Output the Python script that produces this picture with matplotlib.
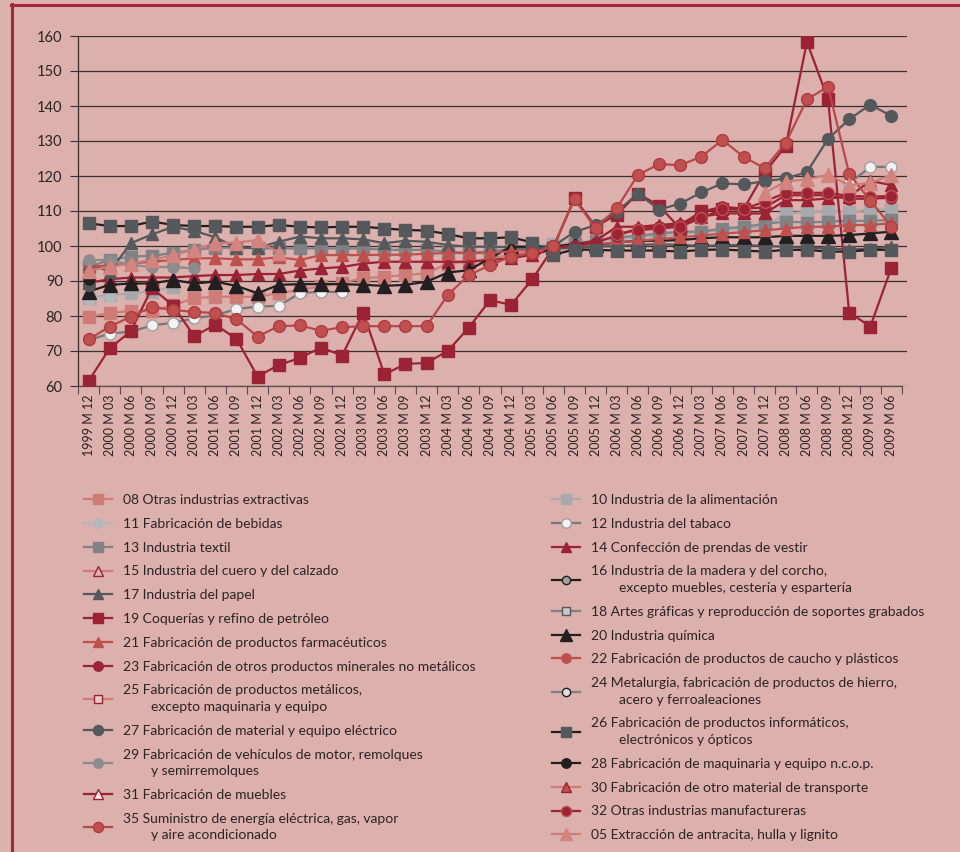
import numpy as np
import matplotlib
matplotlib.use("Agg")
import matplotlib.pyplot as plt
from matplotlib.lines import Line2D

nan = np.nan

# periodos trimestrales 1999 M12 - 2009 M06
periodos = ["1999 M 12"]
for a in range(2000, 2009):
    for m in ["03", "06", "09", "12"]:
        periodos.append("%d M %s" % (a, m))
periodos += ["2009 M 03", "2009 M 06"]

# series (indice, 2005 = 100); nan = sin punto visible en el grafico
s08 = [79.8, 80.8, 81.5, 81.4, 83.1, 85.1, 85.5, 85.5, 85.5, 86.5, 87.5, 88.5, 89.5, 90.8, 91.2, 91.7, 92.2, 95.0, 95.5, 96.5,
       97.5, 98.5, 99.5] + [nan] * 16
s10 = [85.1, 86.0, 86.5, 87.0, 88.4] + [nan] * 16 + [100.0, 100.5, 101.0, 101.5, 102.0, 102.5, 103.0, 103.5, 104.0,
       104.5, 105.0, 105.5, 109.3, 109.8, 109.8, 109.8, 110.3, 110.5]
s11 = [84.8, 85.5] + [nan] * 37
s12 = [73.1, 75.0, 75.5, 77.3, 78.1, 79.3, 80.2, 82.0, 82.7, 82.9, 86.5, 87.0, 86.8] + [nan] * 23 + [118.0, 122.5, 122.7]
s13 = [94.0, 96.0, 97.0, 97.2, 98.0, 98.9, 99.5, 99.5, 99.3, 99.3, 99.3, 99.3, 99.3, 99.3, 98.9, 98.9, 98.9, 98.4, 98.0, 98.5,
       99.0, 99.3, 99.5, 100.5, 101.5, 102.5, 102.9, 103.6, 104.1, 104.1, 105.0, 105.5, 106.3, 107.0, 106.7, 107.0, 107.2, 107.2, 107.4]
s14 = [89.5, 90.5, 91.0, 91.0, 91.0, 91.4, 91.7, 91.7, 92.0, 92.0, 93.0, 93.6, 94.0, 95.0, 95.5, 95.5, 95.5, 95.5, 95.5, 96.0,
       96.5, 97.5, 99.0, 100.5, 101.5, 105.5, 105.5, 106.0, 106.5, 108.4, 109.3, 109.3, 109.3, 113.1, 113.1, 113.6, 114.1, 118.6, 117.4]
s15 = [nan] * 39
s16 = [nan] * 39
s17 = [95.0, 92.7, 100.8, 103.3, 105.5, 104.3, 102.5, 99.5, 99.5, 101.2, 102.7, 102.2, 102.2, 101.9, 100.8, 101.5, 101.2, 100.3, 99.8, 99.8,
       99.6, 99.5, 99.2, 99.5, 99.8, 100.0, 100.3, 100.5, 100.3, 100.0, 100.2, 100.3, 100.0, 99.8, 99.5, 99.3, 99.0, 99.2, 99.8]
s18 = [nan] * 39
s19 = [61.4, 70.8, 75.6, 88.0, 83.0, 74.2, 77.5, 73.5, 62.7, 66.0, 68.0, 71.0, 68.7, 81.0, 63.3, 66.3, 66.6, 70.0, 76.7, 84.5,
       83.2, 90.5, 99.5, 113.7, 105.5, 109.0, 115.0, 111.5, 105.0, 110.0, 110.5, 110.5, 121.0, 128.6, 158.3, 141.9, 81.0, 77.0, 93.8]
s20 = [87.0, 88.9, 89.3, 89.3, 90.3, 89.3, 89.8, 88.6, 86.5, 88.9, 89.1, 89.1, 89.1, 88.9, 88.6, 88.9, 89.8, 92.4, 93.1, 96.5,
       99.8, 99.8, 99.8, 100.6, 100.3, 101.0, 101.5, 101.5, 101.7, 102.2, 102.5, 102.5, 102.5, 102.9, 102.9, 102.9, 103.1, 103.6, 104.1]
s21 = [94.0, 94.5, 95.0, 95.5, 96.0, 96.5, 96.5, 96.2, 96.2, 96.8, 96.0, 97.4, 97.4, 97.4, 97.5, 97.5, 97.8, 98.0, 98.0, 98.0,
       98.5, 99.0, 99.5, 100.0, 100.5, 101.0, 101.5, 102.0, 102.5, 103.0, 103.5, 104.0, 104.5, 105.0, 105.5, 105.5, 106.0, 106.0, 106.5]
s22 = [nan] * 39
s23 = [90.5] + [nan] * 20 + [99.0, 99.5, 100.0, 101.0, 103.0, 105.0, 105.5, 106.0, 109.8, 111.2, 110.7, 111.0,
       114.5, 114.5, 114.5, 113.5, 113.5, 113.8]
s24 = [nan] * 39
s25 = [nan] * 39
s26 = [106.5, 105.7, 105.7, 107.0, 106.0, 105.7, 105.7, 105.5, 105.5, 106.0, 105.5, 105.3, 105.5, 105.5, 105.0, 104.6, 104.4, 103.4, 102.2, 102.2,
       102.5, 101.0, 97.5, 99.0, 98.9, 98.7, 98.7, 98.7, 98.4, 98.9, 99.0, 98.7, 98.4, 98.9, 98.9, 98.4, 98.4, 98.9, 98.9]
s27 = [89.0] + [nan] * 20 + [99.0, 100.0, 104.0, 106.0, 109.8, 115.0, 110.4, 112.1, 115.3, 117.9, 117.6, 118.5,
       119.3, 121.1, 130.6, 136.2, 140.4, 137.1]
s28 = [90.6] + [nan] * 38
s29 = [96.0, 96.0, 94.6, 94.0, 94.0, 93.6] + [nan] * 33
s30 = [nan] * 39
s31 = [nan] * 39
s32 = [nan] * 25 + [103.5, 104.5, 105.0, 105.5, 108.0, 110.5, 110.5, 112.7, 115.2, 115.2, 115.2, 114.3, 114.1, 114.3]
s35 = [73.3, 77.0, 79.8, 82.6, 81.7, 81.2, 80.8, 79.1, 74.1, 77.1, 77.3, 75.8, 76.8, 77.1, 77.1, 77.1, 77.1, 86.0, 91.7, 94.5,
       97.0, 98.0, 100.0, 113.3, 105.1, 110.8, 120.3, 123.4, 123.1, 125.5, 130.3, 125.5, 122.2, 129.5, 141.9, 145.5, 120.6, 113.0, 105.5]
s05 = [93.0, 94.0, 95.0, 96.0, 97.4, 99.0, 100.8, 101.0, 101.7, 98.0] + [nan] * 22 + [115.2, 118.4, 119.1, 120.3,
       117.4, 118.0, 120.3]

etiquetas = {
    "08": "08 Otras industrias extractivas",
    "10": "10 Industria de la alimentación",
    "11": "11 Fabricación de bebidas",
    "12": "12 Industria del tabaco",
    "13": "13 Industria textil",
    "14": "14 Confección de prendas de vestir",
    "15": "15 Industria del cuero y del calzado",
    "16": "16 Industria de la madera y del corcho,\n        excepto muebles, cestería y espartería",
    "17": "17 Industria del papel",
    "18": "18 Artes gráficas y reproducción de soportes grabados",
    "19": "19 Coquerías y refino de petróleo",
    "20": "20 Industria química",
    "21": "21 Fabricación de productos farmacéuticos",
    "22": "22 Fabricación de productos de caucho y plásticos",
    "23": "23 Fabricación de otros productos minerales no metálicos",
    "24": "24 Metalurgia, fabricación de productos de hierro,\n        acero y ferroaleaciones",
    "25": "25 Fabricación de productos metálicos,\n        excepto maquinaria y equipo",
    "26": "26 Fabricación de productos informáticos,\n        electrónicos y ópticos",
    "27": "27 Fabricación de material y equipo eléctrico",
    "28": "28 Fabricación de maquinaria y equipo n.c.o.p.",
    "29": "29 Fabricación de vehículos de motor, remolques\n        y semirremolques",
    "30": "30 Fabricación de otro material de transporte",
    "31": "31 Fabricación de muebles",
    "32": "32 Otras industrias manufactureras",
    "35": "35 Suministro de energía eléctrica, gas, vapor\n        y aire acondicionado",
    "05": "05 Extracción de antracita, hulla y lignito",
}
series = {"08": s08, "10": s10, "11": s11, "12": s12, "13": s13, "14": s14, "15": s15, "16": s16,
          "17": s17, "18": s18, "19": s19, "20": s20, "21": s21, "22": s22, "23": s23, "24": s24,
          "25": s25, "26": s26, "27": s27, "28": s28, "29": s29, "30": s30, "31": s31, "32": s32,
          "35": s35, "05": s05}

# colores
FONDO = "#dcb0ac"
BORDE = "#a3263a"
ROJO = "#9b2335"
CORAL = "#c0504d"
CORAL_CL = "#cf7b78"
GRIS_OS = "#55595b"
GRIS = "#808285"
GRIS_CL = "#a7a9ac"
NEGRO = "#231f20"
BLANCO = "#f2f2f2"
TEXTO = "#2d2323"

# estilo: (color linea, marcador, relleno, borde, tamaño)
estilos = {
    "08": (CORAL_CL, "s", CORAL_CL, CORAL_CL, 8.5),
    "10": (GRIS_CL, "s", GRIS_CL, GRIS_CL, 8.5),
    "11": ("#b4b8bc", "o", "#b4b8bc", "#b4b8bc", 8),
    "12": ("#77787b", "o", BLANCO, "#a0a0a0", 8),
    "13": (GRIS, "s", GRIS, GRIS, 8.5),
    "14": (ROJO, "^", ROJO, ROJO, 9),
    "15": (CORAL_CL, "^", FONDO, ROJO, 8),
    "16": (NEGRO, "o", "#a0a2a4", NEGRO, 7),
    "17": (GRIS_OS, "^", GRIS_OS, GRIS_OS, 9),
    "18": (GRIS, "s", "#c8c8c8", GRIS_OS, 7),
    "19": (ROJO, "s", ROJO, ROJO, 9),
    "20": (NEGRO, "^", NEGRO, NEGRO, 9.5),
    "21": (CORAL, "^", CORAL, CORAL, 8.5),
    "22": (CORAL, "o", CORAL, CORAL, 8),
    "23": (ROJO, "o", ROJO, ROJO, 8),
    "24": (GRIS, "o", "#e0e0e0", NEGRO, 7),
    "25": (CORAL_CL, "s", "#e8c8c4", ROJO, 7),
    "26": (NEGRO, "s", GRIS_OS, GRIS_OS, 9),
    "27": (GRIS_OS, "o", GRIS_OS, GRIS_OS, 8.5),
    "28": (NEGRO, "o", NEGRO, NEGRO, 8),
    "29": ("#8a8c8e", "o", "#8a8c8e", "#8a8c8e", 8),
    "30": (CORAL_CL, "^", CORAL, ROJO, 8.5),
    "31": (ROJO, "^", "#f6ecec", ROJO, 8),
    "32": (ROJO, "o", ROJO, CORAL, 8.5),
    "35": ("#b8484a", "o", CORAL, "#b03a40", 8.5),
    "05": (CORAL_CL, "^", "#d4847f", "#d4847f", 9.5),
}
izquierda = ["08", "11", "13", "15", "17", "19", "21", "23", "25", "27", "29", "31", "35"]
derecha = ["10", "12", "14", "16", "18", "20", "22", "24", "26", "28", "30", "32", "05"]
orden = ["08", "10", "11", "12", "13", "14", "15", "16", "17", "18", "19", "20", "21",
         "22", "23", "24", "25", "26", "27", "28", "29", "30", "31", "32", "35", "05"]

plt.rcParams["font.family"] = ["Lato", "DejaVu Sans"]

fig = plt.figure(figsize=(9.6, 8.52), dpi=100, facecolor=FONDO)
ax = fig.add_axes([78 / 960, 1 - 386 / 852, (907 - 78) / 960, 350 / 852])
ax.set_facecolor(FONDO)

x = np.arange(len(periodos))
lineas = {}
for k, cod in enumerate(orden):
    c, m, fc, ec, ms = estilos[cod]
    ln, = ax.plot(x, series[cod], color=c, lw=1.6, marker=m, ms=ms, mfc=fc, mec=ec,
                  mew=1.0, label=etiquetas[cod], zorder=3 + k * 0.01)
    lineas[cod] = ln

ax.set_ylim(60, 160)
ax.set_xlim(-0.5, 38.5 + 5 / 21.13)
ax.set_yticks(np.arange(60, 161, 10))
ax.yaxis.grid(True, color="#3a2e2e", lw=0.9, zorder=1)
ax.set_axisbelow(True)

ax.set_xticks(x)
ax.set_xticklabels(periodos, rotation=90, fontsize=9, color=TEXTO)
ax.set_xticks(np.arange(-0.5, 39, 1), minor=True)
ax.tick_params(axis="x", which="major", length=0, pad=6)
ax.tick_params(axis="x", which="minor", length=6, color="#5a4a4a", width=0.8)
ax.tick_params(axis="y", length=6, color="#3a2e2e", width=0.8, labelsize=10.5,
               labelcolor=TEXTO, pad=5)

for s in ["top", "right"]:
    ax.spines[s].set_visible(False)
ax.spines["left"].set_color("#3a2e2e")
ax.spines["left"].set_linewidth(0.9)
ax.spines["bottom"].set_color("#5a4a4a")
ax.spines["bottom"].set_linewidth(0.9)
ax.spines["bottom"].set_bounds(-0.5, 38.5)

# leyendas en dos columnas
kw = dict(loc="upper left", frameon=False, fontsize=10, handlelength=2.0,
          handletextpad=0.8, labelspacing=0.85, borderpad=0, borderaxespad=0,
          markerscale=0.85, labelcolor=TEXTO)
leg1 = fig.legend([lineas[c] for c in izquierda], [etiquetas[c] for c in izquierda],
                  bbox_to_anchor=(84 / 960, 1 - 494 / 852), **kw)
leg2 = fig.legend([lineas[c] for c in derecha], [etiquetas[c] for c in derecha],
                  bbox_to_anchor=(552 / 960, 1 - 494 / 852), **kw)
for leg in (leg1, leg2):
    for t in leg.get_texts():
        t.set_linespacing(1.45)

# marco rojo superior e izquierdo
fig.add_artist(Line2D([11.5 / 960, 11.5 / 960], [0, 1 - 4 / 852], transform=fig.transFigure,
                      color=BORDE, lw=2.2))
fig.add_artist(Line2D([10.5 / 960, 1], [1 - 4.5 / 852, 1 - 4.5 / 852], transform=fig.transFigure,
                      color=BORDE, lw=2.2))

fig.savefig("out.png", dpi=100, facecolor=FONDO)
